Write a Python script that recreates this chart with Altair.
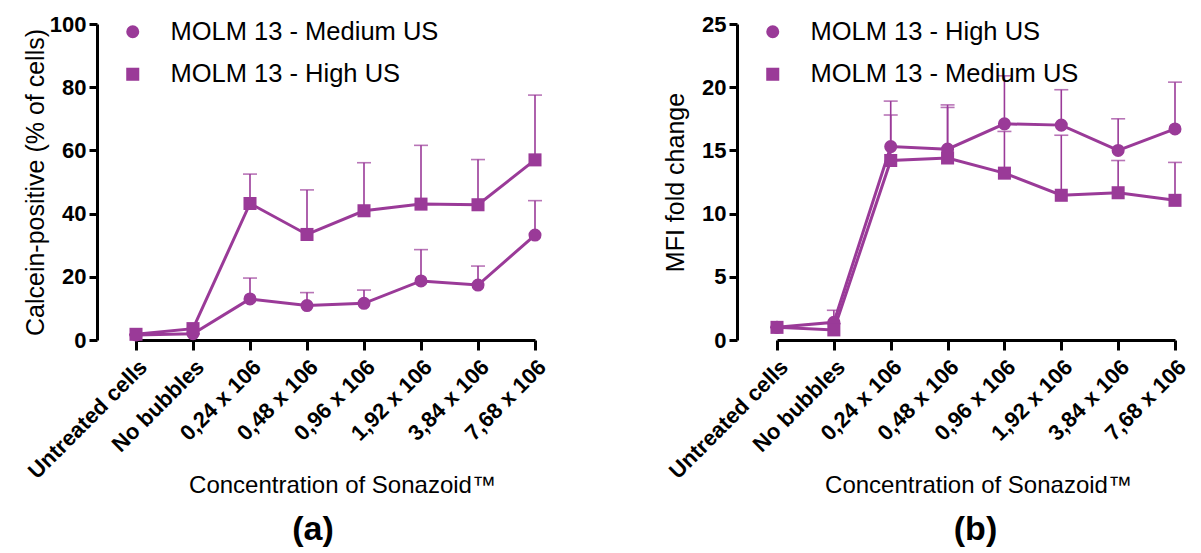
import altair as alt
import pandas as pd

categories = ["Untreated cells", "No bubbles", "0,24 x 106", "0,48 x 106",
              "0,96 x 106", "1,92 x 106", "3,84 x 106", "7,68 x 106"]

# Panel (a): Calcein-positive (% of cells)
a_names = ["MOLM 13 - Medium US", "MOLM 13 - High US"]
a_medium = [1.6, 2.0, 13.0, 10.9, 11.6, 18.7, 17.4, 33.2]
a_medium_sd = [0.0, 0.0, 6.6, 4.1, 4.2, 9.9, 6.0, 10.9]
a_high = [1.8, 3.6, 43.2, 33.4, 40.9, 43.0, 42.8, 57.0]
a_high_sd = [0.0, 0.0, 9.3, 14.1, 15.2, 18.6, 14.3, 20.5]

# Panel (b): MFI fold change
b_names = ["MOLM 13 - High US", "MOLM 13 - Medium US"]
b_high = [1.0, 1.4, 15.3, 15.1, 17.1, 17.0, 15.0, 16.7]
b_high_sd = [0.0, 0.95, 3.6, 3.5, 3.8, 2.8, 2.5, 3.7]
b_medium = [1.0, 0.8, 14.2, 14.4, 13.2, 11.45, 11.65, 11.05]
b_medium_sd = [0.0, 0.5, 3.6, 4.0, 3.3, 4.75, 2.55, 3.0]

PURPLE = "#9a3a98"
FONT = "Liberation Sans"


def make_df(names, means_list, sds_list):
    rows = []
    for name, means, sds in zip(names, means_list, sds_list):
        for c, m, s in zip(categories, means, sds):
            rows.append({"cat": c, "series": name, "value": m, "upper": m + s})
    return pd.DataFrame(rows)


def panel(df, names, ytitle, ymax, ystep, width, xrange, title_x, label, label_dx):
    xaxis = alt.Axis(title="Concentration of Sonazoid\u2122", titleFont=FONT, titleFontSize=24,
                     titleFontWeight="normal", titleColor="black", titleX=title_x, titleY=152,
                     titleAlign="center", titleBaseline="alphabetic",
                     labelAngle=-45, labelAlign="right", labelBaseline="top", labelPadding=6,
                     labelFont=FONT, labelFontSize=22, labelFontWeight="bold", labelColor="black",
                     domainColor="black", domainWidth=3, tickColor="black", tickWidth=3, tickSize=10,
                     labelOverlap=False, labelLimit=400, grid=False)
    yaxis = alt.Axis(title=ytitle, titleFont=FONT, titleFontSize=25, titleFontWeight="normal",
                     titleColor="black", titleX=-62, titleY=158, titleAngle=270, titleAlign="center",
                     titleBaseline="middle",
                     values=list(range(0, ymax + 1, ystep)), labelFont=FONT, labelFontSize=22,
                     labelFontWeight="bold", labelColor="black", labelPadding=3,
                     domainColor="black", domainWidth=3, tickColor="black", tickWidth=3, tickSize=8,
                     grid=False)
    xs = alt.Scale(type="point", range=xrange, padding=0)
    ys = alt.Scale(domain=[0, ymax], nice=False, zero=True)
    x = alt.X("cat:N", sort=categories, scale=xs, axis=xaxis)
    y = alt.Y("value:Q", scale=ys, axis=yaxis)
    yu = alt.Y("upper:Q", scale=ys, axis=yaxis)
    base = alt.Chart(df)
    lines = base.mark_line(color=PURPLE, strokeWidth=3).encode(x=x, y=y, detail="series:N")
    rules = base.mark_rule(color=PURPLE, strokeWidth=1.6).encode(x=x, y=y, y2=alt.Y2("upper:Q"))
    caps = base.mark_tick(color=PURPLE, thickness=1.6, size=14).encode(x=x, y=yu)
    pts = base.mark_point(filled=True, opacity=1, color=PURPLE, size=170).encode(
        x=x, y=y,
        shape=alt.Shape("series:N", scale=alt.Scale(domain=names, range=["circle", "square"]),
                        legend=alt.Legend(title=None, orient="none", legendX=23, legendY=-5,
                                          symbolSize=170, symbolFillColor=PURPLE,
                                          symbolStrokeColor=PURPLE, symbolStrokeWidth=0,
                                          symbolOpacity=1, labelFont=FONT, labelFontSize=25.5,
                                          labelColor="black", labelOffset=25, rowPadding=15.5,
                                          labelLimit=500, padding=0)))
    return alt.layer(lines, rules, caps, pts).properties(
        width=width, height=316,
        title=alt.TitleParams(label, orient="bottom", anchor="middle", frame="group",
                              font=FONT, fontSize=34, fontWeight="bold", color="black",
                              offset=16, dx=label_dx))


df_a = make_df(a_names, [a_medium, a_high], [a_medium_sd, a_high_sd])
df_b = make_df(b_names, [b_high, b_medium], [b_high_sd, b_medium_sd])

pa = panel(df_a, a_names, "Calcein-positive (% of cells)", 100, 20, 476, [39, 438], 245, "(a)", -22)
pb = panel(df_b, b_names, "MFI fold change", 25, 5, 455, [40, 438], 241, "(b)", 11)

chart = alt.hconcat(pa, pb, spacing=90).resolve_scale(
    shape="independent", x="independent", y="independent"
).resolve_legend(shape="independent").properties(
    padding={"left": 14, "top": 5, "right": 0, "bottom": 0},
    background="white"
).configure_view(stroke="transparent", strokeWidth=0)

chart.save("out.html", embed_options={"renderer": "svg", "actions": False})
